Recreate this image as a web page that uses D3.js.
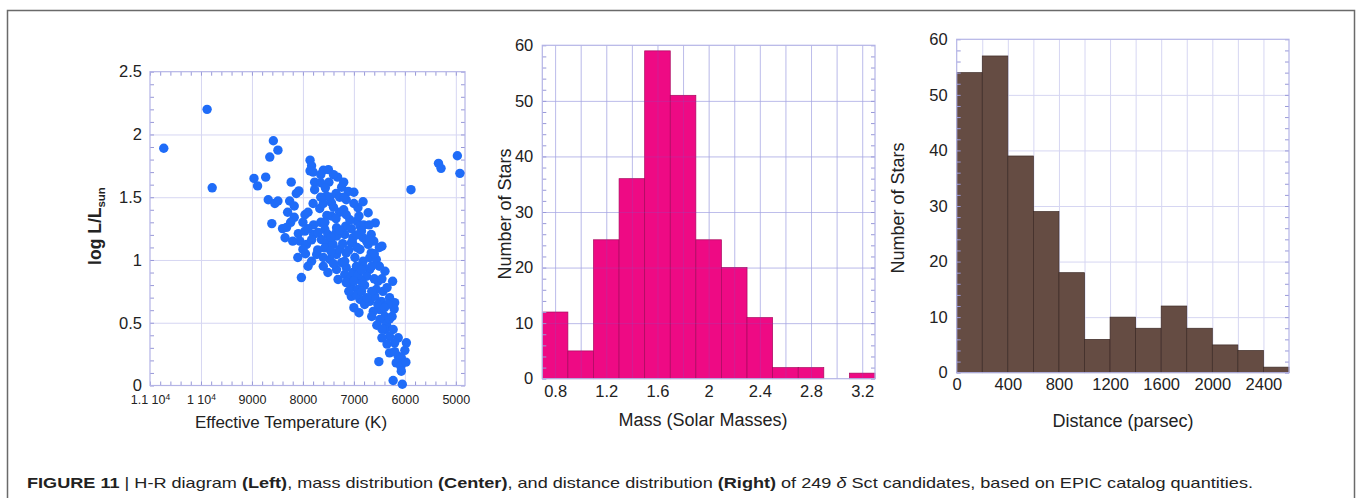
<!DOCTYPE html>
<html><head><meta charset="utf-8">
<script src="https://cdn.jsdelivr.net/npm/d3@7"></script>
<style>
body{margin:0;background:#fff}
svg{display:block}
</style>
</head><body>
<svg id="c" width="1358" height="498"></svg>
<script>
// ---------------- DATA ----------------
// H-R diagram: [effective temperature (K), log L/Lsun]
const hrStars = [
 [10730,1.89],[9880,2.2],[9780,1.575],[5880,1.56],[5340,1.77],[5290,1.73],[4970,1.83],[4920,1.69],
 [8580,1.95],[8490,1.875],[8650,1.82],[8960,1.65],[8730,1.66],[8890,1.59],[8680,1.48],[8550,1.45],[8610,1.29],
 [7860,1.795],[7830,1.75],[7860,1.71],[7800,1.70],[7600,1.715],[8230,1.62],[8080,1.55],[8130,1.53],
 [7770,1.62],[7650,1.615],[7490,1.62],[7320,1.66],[7770,1.56],[7560,1.575],[7240,1.58],[7470,1.50],
 [7350,1.53],[7280,1.50],[7110,1.546],[7000,1.54],[7150,1.48],[7440,1.456],[6820,1.464],[6920,1.416],
 [6720,1.376],[6580,1.296],[8490,1.47],[8260,1.47],[8170,1.43],[7670,1.41],[7530,1.355],[7440,1.35],
 [8170,1.34],[8240,1.30],[7790,1.28],[7650,1.30],[7570,1.30],[7340,1.257],[7160,1.27],[6940,1.31],
 [6880,1.27],[6810,1.28],[7570,1.243],[7510,1.203],[7350,1.217],[7180,1.203],[8090,1.21],[7960,1.23],
 [7790,1.203],[8350,1.177],[8060,1.15],[7640,1.163],[7540,1.137],[7030,1.142],[6820,1.177],[6660,1.203],
 [6610,1.15],[6450,1.11],[6720,1.124],[7540,1.51],[8030,0.86],[7930,1.124],[8000,1.084],[7830,0.99],
 [7730,1.044],[7570,1.097],[7410,1.124],[7340,1.19],[7050,1.137],[6850,1.23],[6750,1.15],[6660,1.057],
 [6880,1.084],[7150,1.057],[7340,1.044],[7470,1.004],[7600,0.95],[7510,0.90],[7340,0.924],[7240,0.98],
 [7150,0.94],[7310,0.845],[7180,0.884],[7080,0.845],[7020,0.90],[6950,0.95],[6820,0.99],[6690,1.018],
 [6560,1.004],[6390,0.91],[6240,0.83],[6690,0.924],[6750,0.87],[6850,0.83],[7050,0.78],[6920,0.765],
 [7050,0.71],[6880,0.685],[6790,0.645],[6690,0.67],[6560,0.765],[6590,0.71],[6460,0.67],[6300,0.70],
 [6200,0.66],[6210,0.61],[6330,0.645],[6490,0.605],[6620,0.59],[6390,0.55],[6490,0.526],[6360,0.486],
 [6390,0.446],[6230,0.446],[6300,0.39],[6130,0.38],[6200,0.34],[5970,0.34],[6300,0.26],[6510,0.19],
 [6130,0.233],[6070,0.22],[6170,0.18],[6080,0.154],[5980,0.186],[6070,0.114],[6230,0.04],[6050,0.01],
 [6690,1.163],[7020,1.177],[7280,1.084],[6980,1.02],[7180,0.99],[6920,0.88],[6790,0.80],[6650,0.75],
 [6530,0.83],[7220,1.13],[6940,1.10],[6810,0.94],[6530,0.645],[6430,0.75],[7450,1.07],[7710,1.08],
 [7830,1.16],[7280,1.24],[7080,1.32],[7280,1.38],[7960,1.36],[8320,1.26],
 [7700,1.22],[7450,1.18],[7600,1.02],[7400,0.97],[7900,1.25],[7950,1.05],
 [7150,0.82],[7000,0.83],[6950,0.72],[7100,0.75],[6850,0.75],[7000,0.62],[6900,0.58],[6750,0.70],
 [6850,0.92],[7100,1.08],[6950,1.20],[7050,1.25],
 [6650,0.55],[6550,0.48],[6450,0.45],[6600,0.85],[6450,0.85],[6350,0.78],[6500,0.95],[6400,0.62],
 [6300,0.53],[6250,0.55],[6450,0.38],[6350,0.33],
 [6200,0.27],[6000,0.28],
 [7400,1.42],[7200,1.40],[7000,1.45],[7350,1.33],[7150,1.36],[6900,1.35],[7600,1.45],[7800,1.45],
 [7900,1.38],[8000,1.30],[7650,1.50],[7200,1.50],
 [8300,1.38],[8200,1.15],[8100,1.02],[7900,0.95],[8400,1.25],
 [7650,1.68],[7500,1.72],[7400,1.68],[7200,1.62],
 [6600,1.05],[6700,1.28],[6500,1.10],[6650,0.95]
];
const tempTicks = [11000,10000,9000,8000,7000,6000,5000];
const tempTickLabels = ["1.1 10^4","1 10^4","9000","8000","7000","6000","5000"];
const lumTicks = [0,0.5,1,1.5,2,2.5];

// Mass histogram: bin lower edges (solar masses) and counts
const massBinStarts = [0.7,0.9,1.1,1.3,1.5,1.7,1.9,2.1,2.3,2.5,2.7,2.9,3.1];
const massCounts    = [12,5,25,36,59,51,25,20,11,2,2,0,1];
const massBinWidth = 0.2;
const massTicks = [0.8,1.2,1.6,2,2.4,2.8,3.2];

// Distance histogram: bin lower edges (parsec) and counts
const distBinStarts = [0,200,400,600,800,1000,1200,1400,1600,1800,2000,2200,2400];
const distCounts    = [54,57,39,29,18,6,10,8,12,8,5,4,1];
const distBinWidth = 200;
const distTicks = [0,400,800,1200,1600,2000,2400];
const countTicks = [0,10,20,30,40,50,60];

// ---------------- STYLE ----------------
const FONT = '"Liberation Sans", Arial, Helvetica, sans-serif';
const gridColor = "#d6d6f2";
const frameColor = "#b4b4e6";
const tickColor = "#9898d8";
const svg = d3.select("#c");

// outer figure border
svg.append("rect").attr("x",7.5).attr("y",10.5).attr("width",1347).attr("height",640)
  .attr("fill","none").attr("stroke","#6a6a6a").attr("stroke-width",1.5);

function range(a,b,step){const out=[];for(let v=a;v<=b+1e-9;v+=step)out.push(+v.toFixed(6));return out;}

function drawGrid(g,x,y,xv,yv,color,opacity){
  const [x0,x1]=x.range(), [yb,yt]=y.range();
  g.append("g").attr("transform",`translate(0,${yb})`)
    .call(d3.axisBottom(x).tickValues(xv).tickSize(-(yb-yt)).tickFormat(""))
    .call(a=>{a.select(".domain").remove();a.selectAll("line").attr("stroke",color).attr("stroke-opacity",opacity);});
  g.append("g").attr("transform",`translate(${x0},0)`)
    .call(d3.axisLeft(y).tickValues(yv).tickSize(-(x1-x0)).tickFormat(""))
    .call(a=>{a.select(".domain").remove();a.selectAll("line").attr("stroke",color).attr("stroke-opacity",opacity);});
}
function drawFrame(g,x,y,xMinor,yMinor){
  const [x0,x1]=x.range(), [yb,yt]=y.range();
  const st=a=>{a.select(".domain").remove();a.selectAll("line").attr("stroke",tickColor);};
  if(xMinor){
    g.append("g").attr("transform",`translate(0,${yb})`).call(d3.axisBottom(x).tickValues(xMinor).tickSize(-4).tickFormat("")).call(st);
    g.append("g").attr("transform",`translate(0,${yt})`).call(d3.axisTop(x).tickValues(xMinor).tickSize(-4).tickFormat("")).call(st);
  }
  if(yMinor){
    g.append("g").attr("transform",`translate(${x0},0)`).call(d3.axisLeft(y).tickValues(yMinor).tickSize(-4).tickFormat("")).call(st);
    g.append("g").attr("transform",`translate(${x1},0)`).call(d3.axisRight(y).tickValues(yMinor).tickSize(-4).tickFormat("")).call(st);
  }
  g.append("rect").attr("x",x0).attr("y",yt).attr("width",x1-x0).attr("height",yb-yt)
    .attr("fill","none").attr("stroke",frameColor).attr("stroke-width",1.2);
}
function labelAxes(g,x,y,xv,yv,xfmt,yfmt,fsX,fsY,padX,padY){
  const [x0]=x.range(), [yb]=y.range();
  const ax=g.append("g").attr("transform",`translate(0,${yb})`)
    .call(d3.axisBottom(x).tickValues(xv).tickSize(0).tickPadding(padX).tickFormat(xfmt));
  ax.select(".domain").remove();
  ax.attr("font-family",FONT).attr("font-size",fsX).selectAll("text").attr("fill","#222");
  const ay=g.append("g").attr("transform",`translate(${x0},0)`)
    .call(d3.axisLeft(y).tickValues(yv).tickSize(0).tickPadding(padY).tickFormat(yfmt));
  ay.select(".domain").remove();
  ay.attr("font-family",FONT).attr("font-size",fsY).selectAll("text").attr("fill","#222");
  return ax;
}
function title(x,y,txt,fs,rot,weight){
  const t=svg.append("text").attr("font-family",FONT).attr("font-size",fs).attr("fill","#222")
    .attr("text-anchor","middle").attr("font-weight",weight||"normal")
    .attr("transform",`translate(${x},${y})${rot?" rotate(-90)":""}`);
  t.text(txt);
  return t;
}

// ---------------- LEFT: H-R diagram ----------------
{
  const x=d3.scaleLinear().domain([11000,4820]).range([150,465]);
  const y=d3.scaleLinear().domain([0,2.5]).range([385.5,71.7]);
  const g=svg.append("g");
  drawGrid(g,x,y,tempTicks.slice(1),lumTicks.slice(1,-1),gridColor,1);
  drawFrame(g,x,y,range(5000,11000,200),range(0,2.5,0.1));
  g.append("g").selectAll("circle").data(hrStars).join("circle")
    .attr("cx",d=>x(d[0])).attr("cy",d=>y(d[1])).attr("r",4.7).attr("fill","#1f6cf8");
  const ax=labelAxes(g,x,y,tempTicks,lumTicks,(d,i)=>tempTickLabels[i],d=>d3.format("")(d),12.5,16.5,10,8);
  ax.selectAll("text").each(function(d,i){
    const lab=tempTickLabels[i];
    if(lab.includes("^")){
      const [b,s]=lab.split("^");
      const t=d3.select(this).text(null);
      t.append("tspan").text(b);
      t.append("tspan").attr("font-size",8.5).attr("dy","-0.55em").text(s);
    }
  });
  const yl=svg.append("text").attr("font-family",FONT).attr("font-size",17.5).attr("font-weight","bold")
    .attr("fill","#222").attr("text-anchor","middle").attr("transform","translate(101,226) rotate(-90)");
  yl.append("tspan").text("log L/L");
  yl.append("tspan").attr("font-size",11.5).attr("dy","0.35em").text("sun");
  title(291,428,"Effective Temperature (K)",17);
}

// ---------------- CENTER: mass histogram ----------------
{
  const x=d3.scaleLinear().domain([0.7,3.3]).range([542.3,875]);
  const y=d3.scaleLinear().domain([0,60]).range([378.7,45.3]);
  const g=svg.append("g");
  drawGrid(g,x,y,range(0.8,3.2,0.2),[10,20,30,40,50],gridColor,1);
  const data=massBinStarts.map((s,i)=>({s,c:massCounts[i]})).filter(d=>d.c>0);
  g.append("g").selectAll("rect").data(data).join("rect")
    .attr("x",d=>x(d.s)).attr("width",d=>x(d.s+massBinWidth)-x(d.s))
    .attr("y",d=>y(d.c)).attr("height",d=>y(0)-y(d.c))
    .attr("fill","#ee0a84").attr("stroke","#a8085e").attr("stroke-width",0.7);
  drawGrid(g,x,y,range(0.8,3.2,0.2),[10,20,30,40,50],"#6a6ad0",0.22);
  drawFrame(g,x,y,null,range(0,60,2));
  labelAxes(g,x,y,massTicks,countTicks,d=>d3.format("")(d),d=>d,16.5,16.5,6.5,9);
  title(511,214,"Number of Stars",18,true);
  title(703,426,"Mass (Solar Masses)",18);
}

// ---------------- RIGHT: distance histogram ----------------
{
  const x=d3.scaleLinear().domain([0,2600]).range([956.7,1289]);
  const y=d3.scaleLinear().domain([0,60]).range([372.7,39.3]);
  const g=svg.append("g");
  drawGrid(g,x,y,range(200,2400,200),[10,20,30,40,50],gridColor,1);
  const data=distBinStarts.map((s,i)=>({s,c:distCounts[i]})).filter(d=>d.c>0);
  g.append("g").selectAll("rect").data(data).join("rect")
    .attr("x",d=>x(d.s)).attr("width",d=>x(d.s+distBinWidth)-x(d.s))
    .attr("y",d=>y(d.c)).attr("height",d=>y(0)-y(d.c))
    .attr("fill","#654c43").attr("stroke","#3c2a26").attr("stroke-width",0.7);
  drawFrame(g,x,y,null,range(0,60,2));
  labelAxes(g,x,y,distTicks,countTicks,d=>d,d=>d,16.5,16.5,5.6,9);
  title(904,208,"Number of Stars",18,true);
  title(1123,427,"Distance (parsec)",18);
}

// ---------------- caption ----------------
{
  const cap=svg.append("text").attr("x",27).attr("y",488)
    .attr("font-family",'"Liberation Sans Narrow","Arial Narrow","Liberation Sans",Arial,sans-serif')
    .attr("font-size",15).attr("fill","#222")
    .attr("textLength",1226).attr("lengthAdjust","spacingAndGlyphs");
  const parts=[["FIGURE 11","bold"],[" | H-R diagram ",""],["(Left)","bold"],[", mass distribution ",""],
    ["(Center)","bold"],[", and distance distribution ",""],["(Right)","bold"],[" of 249 ",""],
    ["δ","italic"],[" Sct candidates, based on EPIC catalog quantities.",""]];
  parts.forEach(([t,s])=>{
    const ts=cap.append("tspan").text(t);
    if(s==="bold")ts.attr("font-weight","bold");
    if(s==="italic")ts.attr("font-style","italic");
  });
}
</script>
</body></html>
